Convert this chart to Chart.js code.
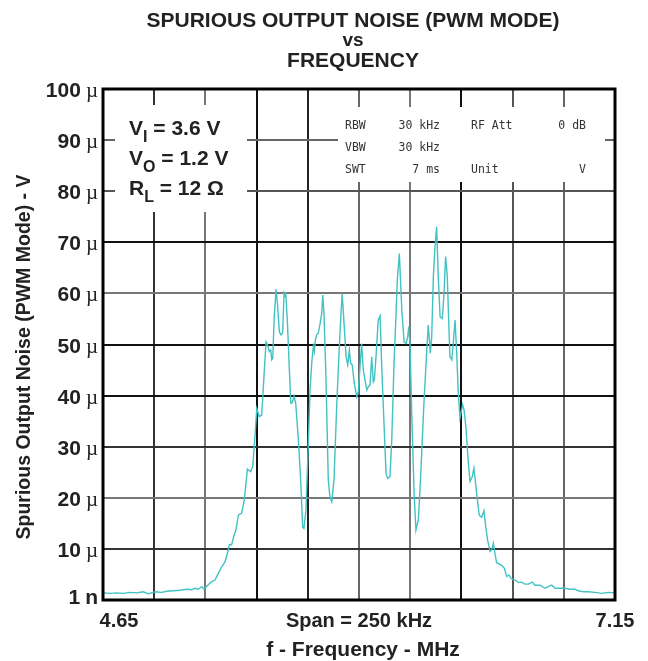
<!DOCTYPE html>
<html>
<head>
<meta charset="utf-8">
<script src="https://cdn.jsdelivr.net/npm/chart.js@4.4.0/dist/chart.umd.min.js"></script>
<style>
  html, body { margin: 0; padding: 0; background: #fff; }
  #wrap { width: 648px; height: 661px; }
</style>
</head>
<body>
<div id="wrap"><canvas id="grafico" width="648" height="661"></canvas></div>
<script>
// Analyzer trace: frequency in MHz, spurious noise in µV
const freqMHz = [
  4.651, 4.684, 4.717, 4.749, 4.782, 4.815, 4.847, 4.871, 4.904, 4.937,
  4.961, 4.993, 5.026, 5.059, 5.083, 5.099, 5.115, 5.132, 5.143, 5.156,
  5.181, 5.197, 5.213, 5.230, 5.246, 5.257, 5.267, 5.278, 5.290, 5.299,
  5.311, 5.327, 5.340, 5.355, 5.371, 5.381, 5.392, 5.401, 5.413, 5.425,
  5.433, 5.446, 5.454, 5.462, 5.469, 5.474, 5.479, 5.486, 5.495, 5.503,
  5.511, 5.519, 5.527, 5.534, 5.539, 5.542, 5.550, 5.560, 5.567, 5.574,
  5.583, 5.591, 5.604, 5.615, 5.625, 5.631, 5.641, 5.652, 5.661, 5.669,
  5.677, 5.682, 5.687, 5.693, 5.701, 5.710, 5.718, 5.723, 5.729, 5.739,
  5.750, 5.758, 5.767, 5.778, 5.791, 5.804, 5.812, 5.818, 5.827, 5.837,
  5.845, 5.853, 5.859, 5.867, 5.877, 5.889, 5.897, 5.905, 5.913, 5.921,
  5.929, 5.938, 5.945, 5.954, 5.962, 5.970, 5.975, 5.983, 5.994, 6.003,
  6.011, 6.022, 6.032, 6.040, 6.051, 6.060, 6.071, 6.081, 6.087, 6.097,
  6.109, 6.120, 6.130, 6.138, 6.143, 6.149, 6.157, 6.169, 6.178, 6.190,
  6.201, 6.217, 6.231, 6.238, 6.243, 6.248, 6.255, 6.263, 6.271, 6.279,
  6.287, 6.296, 6.307, 6.315, 6.323, 6.331, 6.338, 6.344, 6.353, 6.360,
  6.369, 6.377, 6.385, 6.393, 6.401, 6.406, 6.413, 6.422, 6.434, 6.442,
  6.453, 6.461, 6.466, 6.478, 6.487, 6.499, 6.510, 6.519, 6.528, 6.540,
  6.548, 6.556, 6.564, 6.572, 6.597, 6.610, 6.621, 6.632, 6.642, 6.662,
  6.678, 6.694, 6.711, 6.727, 6.746, 6.759, 6.784, 6.808, 6.824, 6.841,
  6.857, 6.890, 6.906, 6.930, 6.955, 6.971, 6.995, 7.020, 7.052, 7.085,
  7.117, 7.150
];
const noiseUV = [
  1.4, 1.3, 1.4, 1.3, 1.5, 1.4, 1.6, 1.2, 1.6, 1.5,
  1.7, 1.8, 1.9, 2.1, 2.0, 2.3, 2.1, 2.6, 2.1, 2.7,
  3.6, 3.9, 5.2, 6.5, 7.5, 9.1, 10.8, 10.8, 12.7, 13.7,
  16.6, 17.0, 19.6, 25.6, 25.1, 26.1, 32.0, 37.5, 35.9, 36.2,
  41.7, 50.5, 49.9, 48.6, 48.9, 47.0, 47.3, 55.4, 60.8, 57.4,
  52.5, 51.9, 52.2, 60.0, 59.4, 60.3, 54.8, 45.0, 38.5, 38.6,
  39.9, 38.5, 31.3, 23.5, 14.3, 14.0, 17.6, 30.0, 41.1, 46.3,
  49.6, 48.6, 50.9, 51.9, 52.2, 54.1, 56.1, 59.7, 56.1, 43.1,
  23.5, 20.2, 19.2, 23.5, 37.8, 49.6, 56.1, 59.9, 54.1, 47.6,
  46.0, 48.9, 46.3, 46.0, 42.4, 39.8, 40.8, 45.7, 50.2, 45.0,
  43.1, 41.1, 41.7, 42.1, 47.6, 42.7, 43.1, 47.6, 54.8, 55.6,
  45.7, 34.6, 24.8, 23.8, 24.1, 31.3, 46.3, 56.1, 62.6, 67.8,
  56.8, 50.5, 50.2, 51.5, 53.5, 50.2, 37.2, 20.9, 13.7, 15.7,
  24.1, 38.5, 48.9, 53.8, 51.5, 48.3, 51.5, 63.3, 69.1, 73.1,
  63.3, 55.4, 55.1, 60.0, 67.2, 63.3, 54.8, 47.6, 47.0, 50.2,
  54.8, 48.3, 40.4, 35.6, 37.2, 38.2, 37.2, 33.9, 26.8, 23.2,
  24.1, 25.8, 24.1, 19.6, 16.6, 16.2, 17.5, 14.3, 11.7, 9.5,
  9.8, 11.1, 9.1, 7.3, 6.8, 6.2, 4.6, 4.9, 4.2, 3.9,
  3.4, 3.5, 3.1, 3.1, 3.5, 2.9, 2.9, 2.3, 2.6, 2.9,
  2.3, 2.3, 2.3, 2.1, 2.1, 1.8, 1.6, 1.6, 1.5, 1.3,
  1.5, 1.4
];

// axis divisions
const xGridMHz = [4.65, 4.90, 5.15, 5.40, 5.65, 5.90, 6.15, 6.40, 6.65, 6.90, 7.15];
const xLabelValues = [4.65, 5.90, 7.15];
const xLabelTexts = ['4.65', 'Span = 250 kHz', '7.15'];
const yTickValues = [0, 10, 20, 30, 40, 50, 60, 70, 80, 90, 100];
const yTickNumbers = ['1', '10', '20', '30', '40', '50', '60', '70', '80', '90', '100'];
const yTickUnits = ['n', 'µ', 'µ', 'µ', 'µ', 'µ', 'µ', 'µ', 'µ', 'µ', 'µ'];

// test conditions and analyzer settings
const conditions = [['V', 'I', ' = 3.6 V'], ['V', 'O', ' = 1.2 V'], ['R', 'L', ' = 12 Ω']];
const settingsRows = [
  ['RBW', '30 kHz', 'RF Att', '0 dB'],
  ['VBW', '30 kHz', '', ''],
  ['SWT', '7 ms', 'Unit', 'V']
];

const SANS = '"Liberation Sans", Arial, sans-serif';
const SERIF = '"Liberation Serif", "Times New Roman", serif';
const MONO = '"DejaVu Sans Mono", monospace';
const xShade = ['#000', '#333', '#777', '#111', '#222', '#666', '#777', '#111', '#555', '#666', '#000'];
const yShade = ['#000', '#333', '#777', '#333', '#111', '#111', '#777', '#111', '#555', '#666', '#000'];

const decor = {
  id: 'decor',
  beforeDatasetsDraw(chart) {
    const { ctx, chartArea: a } = chart;
    ctx.save();
    // white panels over the grid for the annotations
    ctx.fillStyle = '#fff';
    ctx.fillRect(a.left + 12, a.top + 16, 132, 107);
    ctx.fillRect(a.left + 235, a.top + 18, 267, 75);

    ctx.fillStyle = '#222';
    ctx.textBaseline = 'alphabetic';
    ctx.textAlign = 'left';
    conditions.forEach((c, i) => {
      let x = a.left + 26;
      const y = a.top + 46 + i * 30;
      ctx.font = 'bold 21px ' + SANS;
      ctx.fillText(c[0], x, y);
      x += ctx.measureText(c[0]).width;
      ctx.font = 'bold 16px ' + SANS;
      ctx.fillText(c[1], x, y + 7);
      x += ctx.measureText(c[1]).width;
      ctx.font = 'bold 21px ' + SANS;
      ctx.fillText(c[2], x, y);
    });

    ctx.font = '11.5px ' + MONO;
    ctx.fillStyle = '#333';
    const colX = [a.left + 242, a.left + 337, a.left + 368, a.left + 483];
    const colAlign = ['left', 'right', 'left', 'right'];
    settingsRows.forEach((row, r) => {
      const y = a.top + 40 + r * 22;
      row.forEach((t, k) => {
        ctx.textAlign = colAlign[k];
        ctx.fillText(t, colX[k], y);
      });
    });
    ctx.restore();
  },
  afterDraw(chart) {
    const { ctx, chartArea: a, scales } = chart;
    ctx.save();
    // plot frame
    ctx.strokeStyle = '#000';
    ctx.lineWidth = 3;
    ctx.strokeRect(a.left, a.top, a.right - a.left, a.bottom - a.top);

    ctx.fillStyle = '#222';
    // y tick labels: bold number, serif micro sign
    yTickValues.forEach((v, i) => {
      const y = scales.y.getPixelForValue(v) + (i === 0 ? 4 : 8);
      let x = a.left - 5;
      ctx.textAlign = 'right';
      if (yTickUnits[i] === 'µ') {
        ctx.font = '21px ' + SERIF;
        ctx.fillText('µ', x, y);
        x -= ctx.measureText('µ').width + 5;
      } else {
        ctx.font = 'bold 21px ' + SANS;
        ctx.fillText(yTickUnits[i], x, y);
        x -= ctx.measureText(yTickUnits[i]).width + 5;
      }
      ctx.font = 'bold 21px ' + SANS;
      ctx.fillText(yTickNumbers[i], x, y);
    });

    // x labels
    ctx.font = 'bold 20px ' + SANS;
    ctx.textAlign = 'center';
    xLabelValues.forEach((v, i) => {
      let x = scales.x.getPixelForValue(v);
      if (i === 0) x += 16;
      ctx.fillText(xLabelTexts[i], x, a.bottom + 27);
    });
    ctx.font = 'bold 21px ' + SANS;
    ctx.fillText('f - Frequency - MHz', (a.left + a.right) / 2 + 4, a.bottom + 56);

    // title
    const cx = 353;
    ctx.font = 'bold 21px ' + SANS;
    ctx.fillText('SPURIOUS OUTPUT NOISE (PWM MODE)', cx, 27);
    ctx.font = 'bold 19px ' + SANS;
    ctx.fillText('vs', cx, 46);
    ctx.font = 'bold 21px ' + SANS;
    ctx.fillText('FREQUENCY', cx, 67);

    // y axis title
    ctx.translate(25, 357);
    ctx.rotate(-Math.PI / 2);
    ctx.textBaseline = 'middle';
    ctx.font = 'bold 19.5px ' + SANS;
    ctx.fillText('Spurious Output Noise (PWM Mode) - V', 0, 0);
    ctx.restore();
  }
};

new Chart(document.getElementById('grafico'), {
  type: 'line',
  data: {
    datasets: [{
      data: freqMHz.map((f, i) => ({ x: f, y: noiseUV[i] })),
      borderColor: '#42c2c2',
      borderWidth: 1.4,
      pointRadius: 0,
      tension: 0,
      fill: false
    }]
  },
  options: {
    responsive: false,
    animation: false,
    devicePixelRatio: 1,
    layout: { padding: { top: 89, right: 33, left: 0, bottom: 0 } },
    plugins: { legend: { display: false }, tooltip: { enabled: false }, title: { display: false } },
    scales: {
      x: {
        type: 'linear',
        min: 4.65,
        max: 7.15,
        afterBuildTicks: s => { s.ticks = xGridMHz.map(v => ({ value: v })); },
        ticks: { display: false },
        grid: { color: c => xShade[c.index] || '#333', lineWidth: 2, drawTicks: false },
        border: { display: false },
        afterFit: s => { s.height = 61; }
      },
      y: {
        type: 'linear',
        min: 0,
        max: 100,
        ticks: { display: false, stepSize: 10 },
        grid: { color: c => yShade[c.index] || '#333', lineWidth: 2, drawTicks: false },
        border: { display: false },
        afterFit: s => { s.width = 103; }
      }
    }
  },
  plugins: [decor]
});
</script>
</body>
</html>
